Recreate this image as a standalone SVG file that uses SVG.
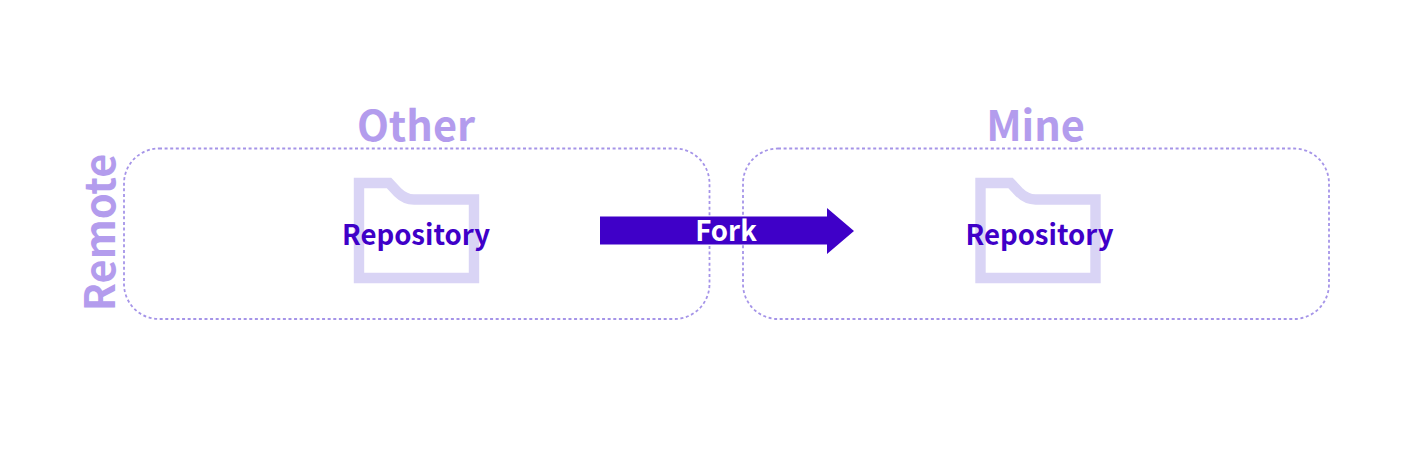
<svg xmlns="http://www.w3.org/2000/svg" width="1424" height="468" viewBox="0 0 1424 468">
<style>
text{font-family:"Noto Sans CJK SC","Noto Sans",sans-serif;font-weight:700;text-anchor:middle}
.box{fill:none;stroke:#a594e8;stroke-width:1.800;stroke-dasharray:3 2.6}
.title{font-size:41.500px;fill:#b39ced}
.repo{font-size:27.600px;fill:#3f00c8}
.folder{fill:none;stroke:#d9d4f5;stroke-width:10.4}
</style>
<rect width="1424" height="468" fill="#fff"/>
<g id="other">
<rect class="box" x="124" y="148.500" width="585.500" height="170.500" rx="35" ry="35"/>
<text class="title" x="416" y="141">Other</text>
</g>
<g id="mine">
<rect class="box" x="743" y="148.500" width="586" height="170.500" rx="35" ry="35"/>
<text class="title" x="1035.500" y="141">Mine</text>
</g>
<text id="remote" class="title" transform="translate(115 232.500) rotate(-90)">Remote</text>
<g id="repo-other">
<path class="folder" d="M359 183H389L398 192.500Q405 199.500 414 199.500H474V278H359Z"/>
<text class="repo" x="416" y="244.500">Repository</text>
</g>
<g id="repo-mine">
<path class="folder" d="M980.500 183H1010.500L1019.500 192.500Q1026.500 199.500 1035.500 199.500H1095.500V278H980.500Z"/>
<text class="repo" x="1039.500" y="244.500">Repository</text>
</g>
<g id="connectors">
<path d="M600 216.500H827V208L854 231L827 254V244.500H600Z" fill="#3f00c8"/>
<text x="726" y="240.500" font-size="27.600" fill="#fff">Fork</text>
</g>
</svg>
